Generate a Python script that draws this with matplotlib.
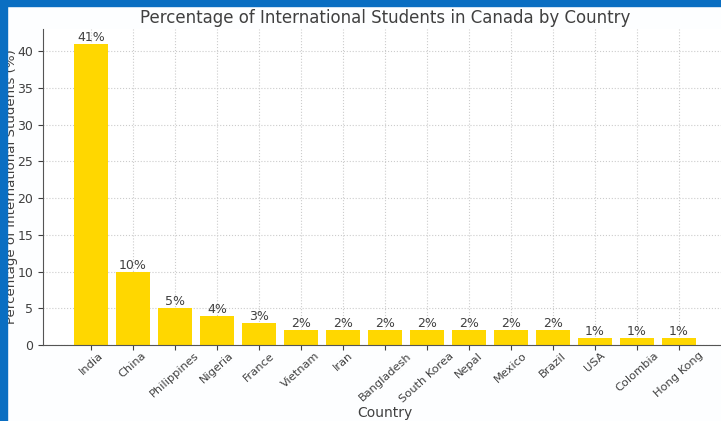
import matplotlib.pyplot as plt
from matplotlib.patches import Rectangle

countries = ['India', 'China', 'Philippines', 'Nigeria', 'France', 'Vietnam', 'Iran',
             'Bangladesh', 'South Korea', 'Nepal', 'Mexico', 'Brazil', 'USA',
             'Colombia', 'Hong Kong']
percentages = [41, 10, 5, 4, 3, 2, 2, 2, 2, 2, 2, 2, 1, 1, 1]

fig = plt.figure(figsize=(7.21, 4.21), dpi=100)
fig.patch.set_facecolor('#fdfeff')

# axes runs off the right edge, like the cropped screenshot
ax = fig.add_axes([43/721, 76/421, 684/721, 316/421])
ax.set_facecolor('white')

bars = ax.bar(countries, percentages, color='#FFD700', width=0.8, zorder=2)
for b, p in zip(bars, percentages):
    ax.text(b.get_x() + b.get_width()/2, b.get_height(), f'{p}%',
            ha='center', va='bottom', fontsize=9, color='#404040')

ax.set_title('Percentage of International Students in Canada by Country',
             fontsize=12, color='#404040', pad=4)
ax.set_xlabel('Country', fontsize=10, color='#404040')
ax.xaxis.set_label_coords(0.5, -0.194)
ax.set_ylabel('Percentage of International Students (%)', fontsize=9.6,
              color='#404040')
ax.yaxis.set_label_coords(-0.037, 0.5)
ax.tick_params(axis='x', rotation=42, labelsize=8.2, colors='#404040', pad=0.5)
ax.tick_params(axis='y', labelsize=9, colors='#404040')
ax.grid(True, linestyle=':', color='#cccccc', linewidth=0.8, zorder=0)
ax.set_axisbelow(True)
for s in ['top', 'right']:
    ax.spines[s].set_visible(False)
for s in ['left', 'bottom']:
    ax.spines[s].set_color('#555555')

# blue frame of the screenshot
fig.patches.append(Rectangle((0, 0), 7/721, 1, transform=fig.transFigure,
                             color='#0a6ec2', zorder=10))
fig.patches.append(Rectangle((0, 1 - 6/421), 1, 6/421, transform=fig.transFigure,
                             color='#0a6ec2', zorder=10))

fig.savefig('out.png', dpi=100, facecolor=fig.get_facecolor())
